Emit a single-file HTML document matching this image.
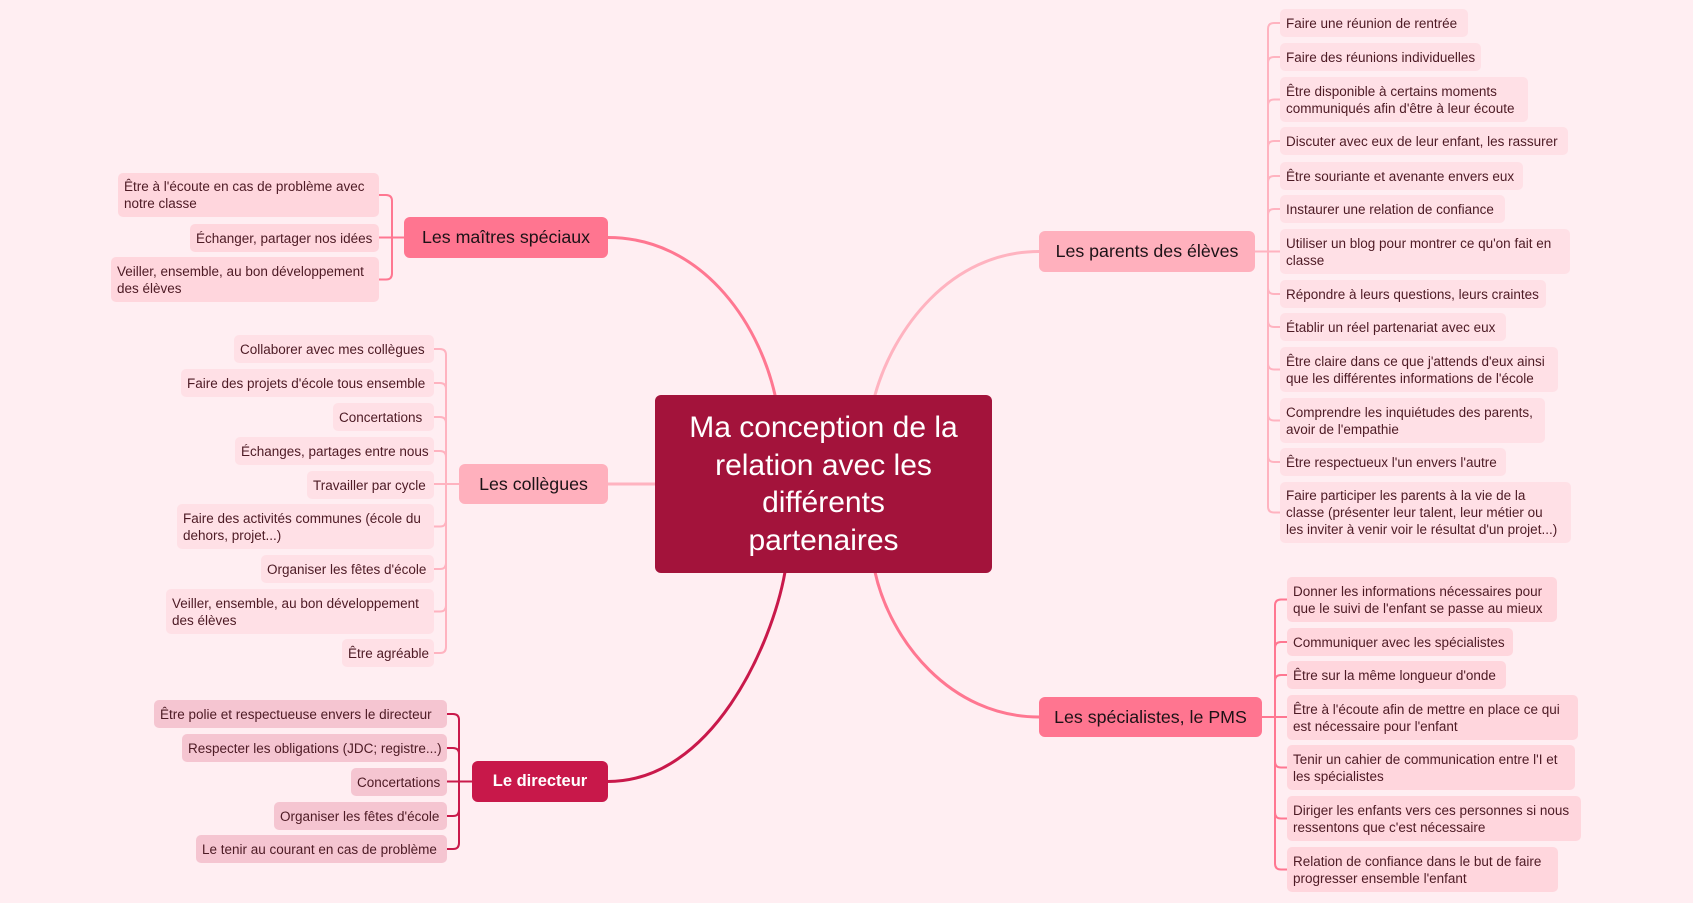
<!DOCTYPE html>
<html>
<head>
<meta charset="utf-8">
<style>
html,body{margin:0;padding:0;}
body{width:1693px;height:903px;overflow:hidden;background:#ffeef2;position:relative;font-family:"Liberation Sans",sans-serif;}
svg{position:absolute;left:0;top:0;}
.it{position:absolute;box-sizing:border-box;border-radius:5px;padding:0 6px;font-size:13.5px;line-height:17px;color:#4d1a24;white-space:nowrap;display:flex;flex-direction:column;justify-content:center;}
.a{background:#ffe0e6;}
.b{background:#ffd6dd;}
.c{background:#f5c5d1;}
.nd{position:absolute;box-sizing:border-box;border-radius:6px;font-size:17.8px;color:#1c1216;display:flex;align-items:center;justify-content:center;white-space:nowrap;}
.center{position:absolute;left:655px;top:395px;width:337px;height:178px;background:#a3133b;border-radius:6px;color:#fff;font-size:30px;line-height:37.5px;text-align:center;display:flex;flex-direction:column;justify-content:center;}
</style>
</head>
<body>
<svg width="1693" height="903" viewBox="0 0 1693 903" fill="none" stroke-linecap="round">
  <!-- main connectors -->
  <path d="M608 237.5 C700 237.5 758 320 775 395" stroke="#ff7791" stroke-width="3"/>
  <path d="M875 395 C893 330 950 251.5 1039 251.5" stroke="#ffb3c0" stroke-width="3"/>
  <path d="M608 484 H655" stroke="#ffb3c0" stroke-width="3"/>
  <path d="M785 572 C772 645 712 781.5 608 781.5" stroke="#c9194b" stroke-width="3"/>
  <path d="M875 572 C890 640 950 717 1039 717" stroke="#ff7791" stroke-width="3"/>

  <!-- parents -->
  <g stroke="#ffb3c0" stroke-width="2">
    <path d="M1255 251.5 H1280"/>
    <path d="M1268 251.5 V29 Q1268 23 1274 23 H1280"/>
    <path d="M1268 251.5 V63 Q1268 57 1274 57 H1280"/>
    <path d="M1268 251.5 V105.5 Q1268 99.5 1274 99.5 H1280"/>
    <path d="M1268 251.5 V147 Q1268 141 1274 141 H1280"/>
    <path d="M1268 251.5 V182 Q1268 176 1274 176 H1280"/>
    <path d="M1268 251.5 V215 Q1268 209 1274 209 H1280"/>
    <path d="M1268 251.5 V288 Q1268 294 1274 294 H1280"/>
    <path d="M1268 251.5 V321 Q1268 327 1274 327 H1280"/>
    <path d="M1268 251.5 V363.5 Q1268 369.5 1274 369.5 H1280"/>
    <path d="M1268 251.5 V414.5 Q1268 420.5 1274 420.5 H1280"/>
    <path d="M1268 251.5 V456 Q1268 462 1274 462 H1280"/>
    <path d="M1268 251.5 V506.5 Q1268 512.5 1274 512.5 H1280"/>
  </g>
  <!-- specialistes -->
  <g stroke="#ff7791" stroke-width="2">
    <path d="M1262 717 H1287"/>
    <path d="M1275 717 V605.5 Q1275 599.5 1281 599.5 H1287"/>
    <path d="M1275 717 V648 Q1275 642 1281 642 H1287"/>
    <path d="M1275 717 V681 Q1275 675 1281 675 H1287"/>
    <path d="M1275 717 V761.5 Q1275 767.5 1281 767.5 H1287"/>
    <path d="M1275 717 V812.5 Q1275 818.5 1281 818.5 H1287"/>
    <path d="M1275 717 V863.5 Q1275 869.5 1281 869.5 H1287"/>
  </g>
  <!-- maitres -->
  <g stroke="#ff7791" stroke-width="2">
    <path d="M404 237.5 H379"/>
    <path d="M392 237.5 V201 Q392 195 386 195 H379"/>
    <path d="M392 237.5 V273.5 Q392 279.5 386 279.5 H379"/>
  </g>
  <!-- collegues -->
  <g stroke="#ffb3c0" stroke-width="2">
    <path d="M459 484 H434"/>
    <path d="M446 484 V355 Q446 349 440 349 H434"/>
    <path d="M446 484 V389 Q446 383 440 383 H434"/>
    <path d="M446 484 V423 Q446 417 440 417 H434"/>
    <path d="M446 484 V457 Q446 451 440 451 H434"/>
    <path d="M446 484 V520.5 Q446 526.5 440 526.5 H434"/>
    <path d="M446 484 V563 Q446 569 440 569 H434"/>
    <path d="M446 484 V605.5 Q446 611.5 440 611.5 H434"/>
    <path d="M446 484 V647 Q446 653 440 653 H434"/>
  </g>
  <!-- directeur -->
  <g stroke="#c9194b" stroke-width="2">
    <path d="M472 781.5 H447"/>
    <path d="M459 781.5 V720 Q459 714 453 714 H447"/>
    <path d="M459 781.5 V754 Q459 748 453 748 H447"/>
    <path d="M459 781.5 V810 Q459 816 453 816 H447"/>
    <path d="M459 781.5 V843 Q459 849 453 849 H447"/>
  </g>
</svg>

<div class="center"><div>Ma conception de la</div><div>relation avec les</div><div>différents</div><div>partenaires</div></div>

<!-- nodes -->
<div class="nd" style="left:404px;top:217px;width:204px;height:41px;background:#ff7590;">Les maîtres spéciaux</div>
<div class="nd" style="left:1039px;top:231px;width:216px;height:41px;background:#ffb0bd;">Les parents des élèves</div>
<div class="nd" style="left:459px;top:464px;width:149px;height:40px;background:#ffb0bd;">Les collègues</div>
<div class="nd" style="left:472px;top:761px;width:136px;height:41px;background:#c8184a;color:#fff;font-weight:bold;font-size:16.5px;">Le directeur</div>
<div class="nd" style="left:1039px;top:697px;width:223px;height:40px;background:#ff7590;">Les spécialistes, le PMS</div>

<!-- parents items -->
<div class="it a" style="left:1280px;top:9px;width:188px;height:28px;">Faire une réunion de rentrée</div>
<div class="it a" style="left:1280px;top:43px;width:201px;height:28px;">Faire des réunions individuelles</div>
<div class="it a" style="left:1280px;top:77px;width:248px;height:45px;"><div>Être disponible à certains moments</div><div>communiqués afin d'être à leur écoute</div></div>
<div class="it a" style="left:1280px;top:127px;width:288px;height:28px;">Discuter avec eux de leur enfant, les rassurer</div>
<div class="it a" style="left:1280px;top:162px;width:243px;height:28px;">Être souriante et avenante envers eux</div>
<div class="it a" style="left:1280px;top:195px;width:225px;height:28px;">Instaurer une relation de confiance</div>
<div class="it a" style="left:1280px;top:229px;width:290px;height:45px;"><div>Utiliser un blog pour montrer ce qu'on fait en</div><div>classe</div></div>
<div class="it a" style="left:1280px;top:280px;width:266px;height:28px;">Répondre à leurs questions, leurs craintes</div>
<div class="it a" style="left:1280px;top:313px;width:226px;height:28px;">Établir un réel partenariat avec eux</div>
<div class="it a" style="left:1280px;top:347px;width:278px;height:45px;"><div>Être claire dans ce que j'attends d'eux ainsi</div><div>que les différentes informations de l'école</div></div>
<div class="it a" style="left:1280px;top:398px;width:265px;height:45px;"><div>Comprendre les inquiétudes des parents,</div><div>avoir de l'empathie</div></div>
<div class="it a" style="left:1280px;top:448px;width:226px;height:28px;">Être respectueux l'un envers l'autre</div>
<div class="it a" style="left:1280px;top:482px;width:291px;height:61px;"><div>Faire participer les parents à la vie de la</div><div>classe (présenter leur talent, leur métier ou</div><div>les inviter à venir voir le résultat d'un projet...)</div></div>

<!-- specialistes items -->
<div class="it b" style="left:1287px;top:577px;width:270px;height:45px;"><div>Donner les informations nécessaires pour</div><div>que le suivi de l'enfant se passe au mieux</div></div>
<div class="it b" style="left:1287px;top:628px;width:226px;height:28px;">Communiquer avec les spécialistes</div>
<div class="it b" style="left:1287px;top:661px;width:219px;height:28px;">Être sur la même longueur d'onde</div>
<div class="it b" style="left:1287px;top:695px;width:291px;height:45px;"><div>Être à l'écoute afin de mettre en place ce qui</div><div>est nécessaire pour l'enfant</div></div>
<div class="it b" style="left:1287px;top:745px;width:288px;height:45px;"><div>Tenir un cahier de communication entre l'I et</div><div>les spécialistes</div></div>
<div class="it b" style="left:1287px;top:796px;width:294px;height:45px;"><div>Diriger les enfants vers ces personnes si nous</div><div>ressentons que c'est nécessaire</div></div>
<div class="it b" style="left:1287px;top:847px;width:271px;height:45px;"><div>Relation de confiance dans le but de faire</div><div>progresser ensemble l'enfant</div></div>

<!-- maitres items -->
<div class="it b" style="left:118px;top:173px;width:261px;height:44px;"><div>Être à l'écoute en cas de problème avec</div><div>notre classe</div></div>
<div class="it b" style="left:190px;top:224px;width:189px;height:28px;">Échanger, partager nos idées</div>
<div class="it b" style="left:111px;top:257px;width:268px;height:45px;"><div>Veiller, ensemble, au bon développement</div><div>des élèves</div></div>

<!-- collegues items -->
<div class="it a" style="left:234px;top:335px;width:200px;height:28px;">Collaborer avec mes collègues</div>
<div class="it a" style="left:181px;top:369px;width:253px;height:28px;">Faire des projets d'école tous ensemble</div>
<div class="it a" style="left:333px;top:403px;width:101px;height:28px;">Concertations</div>
<div class="it a" style="left:235px;top:437px;width:199px;height:28px;">Échanges, partages entre nous</div>
<div class="it a" style="left:307px;top:471px;width:127px;height:28px;">Travailler par cycle</div>
<div class="it a" style="left:177px;top:504px;width:257px;height:45px;"><div>Faire des activités communes (école du</div><div>dehors, projet...)</div></div>
<div class="it a" style="left:261px;top:555px;width:173px;height:28px;">Organiser les fêtes d'école</div>
<div class="it a" style="left:166px;top:589px;width:268px;height:45px;"><div>Veiller, ensemble, au bon développement</div><div>des élèves</div></div>
<div class="it a" style="left:342px;top:639px;width:92px;height:28px;">Être agréable</div>

<!-- directeur items -->
<div class="it c" style="left:154px;top:700px;width:293px;height:28px;">Être polie et respectueuse envers le directeur</div>
<div class="it c" style="left:182px;top:734px;width:265px;height:28px;">Respecter les obligations (JDC; registre...)</div>
<div class="it c" style="left:351px;top:768px;width:96px;height:28px;">Concertations</div>
<div class="it c" style="left:274px;top:802px;width:173px;height:28px;">Organiser les fêtes d'école</div>
<div class="it c" style="left:196px;top:835px;width:251px;height:28px;">Le tenir au courant en cas de problème</div>

</body>
</html>
